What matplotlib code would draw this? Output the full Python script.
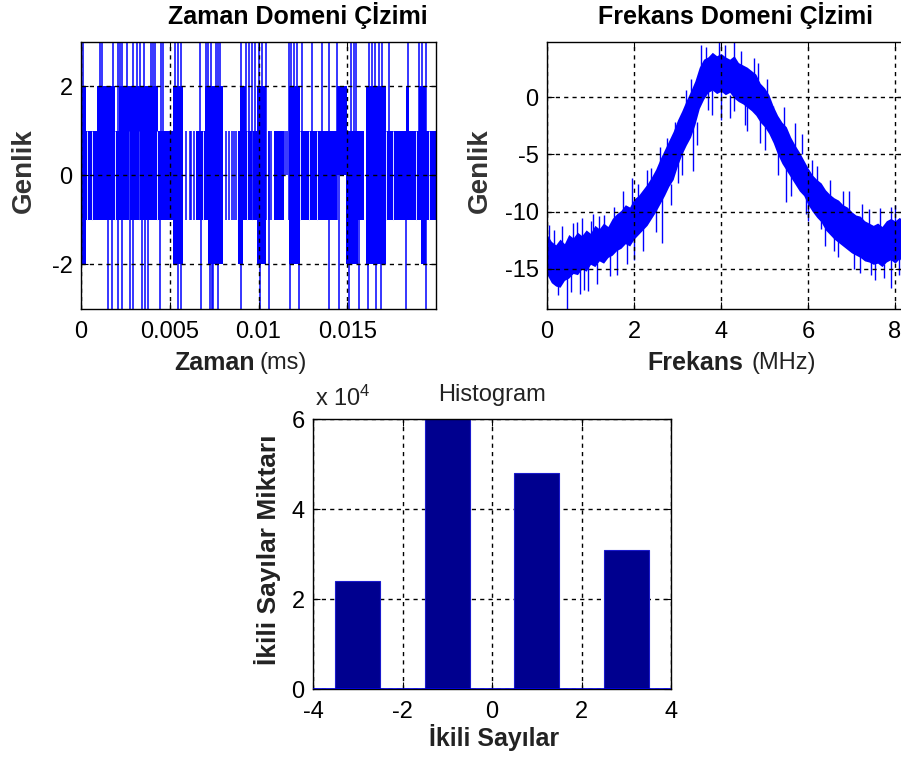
import numpy as np
import matplotlib
matplotlib.use("Agg")
import matplotlib.pyplot as plt
from matplotlib.ticker import FuncFormatter

plt.rcParams['font.family'] = ['Liberation Sans', 'DejaVu Sans']
plt.rcParams['mathtext.default'] = 'regular'
plt.rcParams['axes.unicode_minus'] = False

# --- Zaman domeni: yogun (dolu gorunen) bolgeler, ms ---
band_t0 = [0.0, 0.00028, 0.0009, 0.00192, 0.00215, 0.00435, 0.0052, 0.0065, 0.007,
           0.00718, 0.00887, 0.00898, 0.00887, 0.00989, 0.0109, 0.0117, 0.01232,
           0.01441, 0.01492, 0.01559, 0.01605, 0.01718, 0.01831, 0.01904, 0.01915]
band_t1 = [0.00028, 0.0009, 0.00192, 0.00215, 0.00435, 0.0052, 0.00576, 0.00718, 0.00735,
           0.00802, 0.00994, 0.00932, 0.00915, 0.01045, 0.01141, 0.01232, 0.01441,
           0.01497, 0.01559, 0.01593, 0.01718, 0.02, 0.01848, 0.01944, 0.01944]
band_lo = [-2, -1, -1, -1, -1, -1, -2, -1, 1, -2, -1, 1, -2, -2, -1, -2, -1, 0, -2, -1, -2, -1, 1, 1, -2]
band_hi = [2, 1, 2, 1, 2, 1, 2, 1, 2, 2, 1, 2, -1, 2, 1, 2, 1, 2, 1, 1, 2, 1, 2, 2, -1]

# seyrek tekil gecisler
line_t = [0.00593, 0.00616, 0.00621, 0.00638, 0.00819, 0.00831, 0.00848, 0.00864,
          0.00876, 0.01057, 0.01073, 0.01147, 0.01158]
line_lo = [-1, -1, -1, -1, -1, -1, -1, -1, -1, -1, -1, 0, 0]
line_hi = [1, 1, 1, 1, 1, 1, 1, 1, 1, 1, 1, 1, 1]

# +3 ve -3 seviyesine giden cizgiler
up_t = [0.000113, 0.00107, 0.00119, 0.00181, 0.00209, 0.0022, 0.00232, 0.0026, 0.00294,
        0.00316, 0.00333, 0.00356, 0.00396, 0.00407, 0.00418, 0.00452, 0.00463, 0.00531,
        0.00548, 0.00565, 0.00672, 0.00706, 0.00718, 0.00735, 0.00763, 0.00774, 0.00785,
        0.00904, 0.00927, 0.00944, 0.00961, 0.00983, 0.01, 0.01017, 0.01045, 0.0117,
        0.01181, 0.01198, 0.01215, 0.01243, 0.013, 0.01356, 0.01396, 0.01441, 0.0152,
        0.01537, 0.01548, 0.01622, 0.01639, 0.01655, 0.01678, 0.01695, 0.01735, 0.01842,
        0.01904, 0.01921, 0.01944]
down_t = [0.00153, 0.00175, 0.00209, 0.00232, 0.00277, 0.00294, 0.00345, 0.00362, 0.00379,
          0.00446, 0.00548, 0.00565, 0.00678, 0.00729, 0.0074, 0.00746, 0.00774, 0.00904,
          0.01006, 0.01057, 0.01175, 0.01226, 0.01396, 0.01452, 0.01509, 0.01565, 0.01616,
          0.01661, 0.01689, 0.01831, 0.01944]
# dolu bolgelerdeki ince bosluklar
gap_t = [0.00034, 0.00062, 0.00192, 0.00271, 0.00328, 0.00429, 0.00689, 0.00938, 0.00966,
         0.01232, 0.01283, 0.01328, 0.01718, 0.01757, 0.01887, 0.01961]

# --- Frekans domeni (MHz) ---
freq = [round(0.1 * i, 1) for i in range(83)]
spec_hi = [-12.0, -12.6, -12.9, -12.4, -12.8, -12.0, -12.3, -11.8, -12.1, -11.6,
           -11.9, -11.2, -11.5, -11.0, -11.3, -10.6, -10.2, -9.9, -9.4, -9.6,
           -8.9, -8.6, -8.1, -7.6, -7.0, -6.3, -5.4, -4.6, -3.8, -3.0,
           -2.0, -1.2, -0.3, 0.5, 1.4, 2.6, 3.3, 3.5, 3.9, 3.6,
           3.8, 3.5, 3.3, 3.6, 3.0, 2.8, 2.6, 2.3, 2.0, 1.2,
           0.8, 0.2, -0.8, -1.6, -2.2, -2.6, -3.5, -4.2, -4.8, -5.5,
           -6.2, -6.8, -7.2, -7.5, -8.1, -8.5, -8.8, -9.0, -9.4, -9.6,
           -10.0, -10.3, -10.4, -10.8, -11.0, -11.2, -11.0, -11.3, -10.8, -10.6,
           -10.8, -10.5, -10.9]
spec_lo = [-15.5, -16.2, -16.5, -16.6, -16.0, -15.8, -15.4, -15.5, -15.0, -15.2,
           -14.6, -14.8, -14.3, -14.5, -14.0, -13.8, -13.4, -13.2, -12.8, -13.0,
           -12.4, -12.0, -11.6, -11.2, -10.6, -10.0, -9.3, -8.6, -7.8, -7.2,
           -6.0, -5.0, -4.2, -3.5, -2.4, -1.0, -0.2, 0.4, 0.6, 0.3,
           0.5, 0.2, 0.4, -0.1, -0.4, -0.6, -0.9, -1.2, -1.6, -2.2,
           -2.6, -3.2, -4.0, -5.0, -5.8, -6.4, -7.0, -7.6, -8.2, -8.6,
           -9.4, -10.0, -10.5, -10.9, -11.6, -12.0, -12.4, -12.7, -13.0, -13.3,
           -13.6, -13.8, -14.0, -14.3, -14.4, -14.6, -14.5, -14.8, -14.4, -14.2,
           -14.5, -14.1, -14.6]
# gurultu igneleri (uzun ve kisa)
spike_f = [0.46, 0.75, 0.95, 1.6, 2.0, 2.65, 3.0, 3.35, 3.7, 4.0, 4.3, 4.6, 5.0, 5.5,
           6.0, 6.3, 6.6, 7.2, 7.45, 7.9, 8.1,
           0.05, 0.6, 0.8, 1.05, 1.3, 1.75, 1.95, 2.3, 2.6, 3.2, 3.55, 3.95, 4.3, 4.75,
           5.2, 5.7, 6.2, 6.8, 7.4, 7.9,
           0.15, 0.25, 0.35, 0.55, 0.7, 0.85, 1.0, 1.15, 1.2, 1.45, 1.55, 1.85, 2.1, 2.2,
           2.4, 2.5, 2.75, 2.85, 2.95, 3.1, 3.3, 3.45, 3.65, 3.8, 4.1, 4.2, 4.45, 4.55,
           4.85, 4.9, 5.05, 5.3, 5.45, 5.6, 5.85, 5.95, 6.1, 6.4, 6.5, 6.7, 6.95, 7.05,
           7.25, 7.55, 7.65, 7.75, 8.0, 8.15]
spike_lo = [-18.5, -17.2, -16.9, -15.5, -14.2, -12.7, -7.5, -6.5, -1.1, -2.0, -1.2, -3.0,
            -4.6, -9.2, -10.8, -11.5, -13.4, -15.4, -15.5, -16.7, -15.5,
            -14, -14, -13.5, -13, -13, -11.5, -11, -10, -8, -2, 1, 1, 1, 0,
            -3, -6, -9, -11, -12.5, -12.5,
            -13, -17.3, -13, -17.0, -12.5, -16.8, -12.5, -16.3, -12, -15.6, -11.5, -14.6,
            -9.5, -13.4, -8, -11.8, -5.5, -9.4, -4, -6.8, -0.5, -4.2, 2.8, -1.6, 3, -1.8,
            2.5, -2.4, 1.5, -4.0, 0.2, -6.8, -2.5, -8.6, -5.0, -10.2, -7.2, -13.0, -9,
            -14.0, -10, -15, -11, -16.0, -11.5, -15.8, -11.2, -15.8]
spike_hi = [-14, -14, -13.5, -12, -11, -8, -4, -2, 2, 2, 2, 1, -1, -5, -8, -9, -11, -12,
            -13, -12.5, -12.5,
            -11.2, -11.0, -10.6, -10.2, -10.3, -8.2, -7.1, -6.4, -4.4, 0.6, 4.5, 4.8, 4.8,
            3.4, -0.8, -2.3, -6.0, -8.2, -9.8, -9.6,
            -11.6, -16, -11.3, -15.5, -10.9, -15, -10.8, -14.5, -10.4, -13.8, -9.6, -12.6,
            -7.6, -11.4, -6.2, -9.8, -3.6, -7.6, -2.2, -4.8, 1.6, -2.2, 4.4, 0.6, 4.5, 0.2,
            4.0, -0.4, 3.0, -2, 1.6, -4.8, -0.9, -6.8, -3.2, -8.4, -5.5, -11.4, -7.2,
            -12.4, -8.2, -13.4, -9.3, -14.4, -9.7, -14.6, -9.4, -14.2]

# --- Histogram ---
hist_bins = [-3, -1, 1, 3]
hist_counts = [24000, 60000, 48000, 31000]

fig = plt.figure(figsize=(9.01, 7.62), dpi=100)
ax1 = fig.add_axes([81/901, 1-309/762, 355/901, 267/762])
ax2 = fig.add_axes([547/901, 1-309/762, 355/901, 267/762])
ax3 = fig.add_axes([313/901, 1-689/762, 358/901, 270/762])

grid_kw = dict(color='black', linestyle=(0, (3, 3)), linewidth=1.0)
tick_fs = 17
blue = (0, 0, 1)

def style(ax):
    ax.tick_params(direction='in', length=5, width=0.8, top=True, right=True,
                   labelsize=tick_fs, colors='black')
    ax.tick_params(axis='y', pad=6)
    ax.tick_params(axis='x', pad=9)
    for s in ax.spines.values():
        s.set_linewidth(1.0)
        s.set_color('black')
    ax.grid(True, **grid_kw)

# Zaman domeni
b0 = np.array(band_t0)
b1 = np.array(band_t1)
blo = np.array(band_lo)
bhi = np.array(band_hi)
ax1.bar(b0, bhi - blo, width=b1 - b0, bottom=blo, align='edge', color=blue, linewidth=0, zorder=1)
ax1.vlines(gap_t, -1, 1, color='#dfe3ff', linewidth=0.7, zorder=1.2)
ax1.vlines(line_t, line_lo, line_hi, color=blue, linewidth=1.1, zorder=1.5)
ax1.vlines(up_t, -1, 3.5, color=blue, linewidth=1.1, zorder=1.5)
ax1.vlines(down_t, -3.5, 1, color=blue, linewidth=1.1, zorder=1.5)
ax1.set_xlim(0, 0.02)
ax1.set_ylim(-3, 3)
ax1.set_xticks([0, 0.005, 0.01, 0.015])
ax1.set_xticklabels(['0', '0.005', '0.01', '0.015'])
ax1.set_yticks([-2, 0, 2])
ax1.set_yticklabels(['-2', '0', '2'])
ax1.set_axisbelow(False)
style(ax1)
ax1.text(0.611, 1.10, 'Zaman Domeni Çİzimi', transform=ax1.transAxes, ha='center',
         va='center', fontsize=18, fontweight='bold', color='black')
ax1.set_ylabel('Genlik', fontsize=20, fontweight='bold', color='#333333', va='center')
ax1.yaxis.set_label_coords(-0.16, 0.52)
ax1.text(0.49, -0.202, 'Zaman', transform=ax1.transAxes, ha='right', va='center',
         fontsize=18, fontweight='bold', color='#222222')
ax1.text(0.504, -0.202, '(ms)', transform=ax1.transAxes, ha='left', va='center',
         fontsize=17, color='#222222')

# Frekans domeni
ax2.fill_between(freq, spec_lo, spec_hi, color=blue, linewidth=0, zorder=1)
ax2.vlines(spike_f, spike_lo, spike_hi, color=blue, linewidth=1.0, zorder=1.5)
ax2.set_xlim(0, 8.16)
ax2.set_ylim(-18.5, 4.8)
ax2.set_xticks([0, 2, 4, 6, 8])
ax2.set_yticks([-15, -10, -5, 0])
ax2.set_axisbelow(False)
style(ax2)
ax2.text(0.532, 1.10, 'Frekans Domeni Çİzimi', transform=ax2.transAxes, ha='center',
         va='center', fontsize=18, fontweight='bold', color='black')
ax2.set_ylabel('Genlik', fontsize=20, fontweight='bold', color='#333333', va='center')
ax2.yaxis.set_label_coords(-0.189, 0.52)
ax2.text(0.552, -0.202, 'Frekans', transform=ax2.transAxes, ha='right', va='center',
         fontsize=18, fontweight='bold', color='#222222')
ax2.text(0.577, -0.202, '(MHz)', transform=ax2.transAxes, ha='left', va='center',
         fontsize=17, color='#222222')

# Histogram
ax3.bar(hist_bins, hist_counts, width=1.0, color=(0, 0, 0.5625), edgecolor=(0.1, 0.1, 0.8),
        linewidth=0.8, zorder=2)
ax3.axhline(0, color=(0, 0, 0.9), linewidth=1.2, zorder=3)
ax3.set_xlim(-4, 4)
ax3.set_ylim(0, 60000)
ax3.set_xticks([-4, -2, 0, 2, 4])
ax3.set_yticks([0, 20000, 40000, 60000])
ax3.yaxis.set_major_formatter(FuncFormatter(lambda v, p: '%d' % round(v / 1e4)))
ax3.set_axisbelow(True)
style(ax3)
ax3.set_title('Histogram', fontsize=17, color='#222222', y=1.035)
ax3.text(0.006, 1.05, r'x 10$^{4}$', transform=ax3.transAxes, ha='left', va='baseline',
         fontsize=17, color='#222222')
ax3.set_xlabel('İkili Sayılar', fontsize=18, fontweight='bold', color='#222222', va='center')
ax3.xaxis.set_label_coords(0.506, -0.178)
ax3.set_ylabel('İkili Sayılar Miktarı', fontsize=19, fontweight='bold', color='#222222',
               va='center')
ax3.yaxis.set_label_coords(-0.126, 0.515)

fig.savefig('out.png', dpi=100)
